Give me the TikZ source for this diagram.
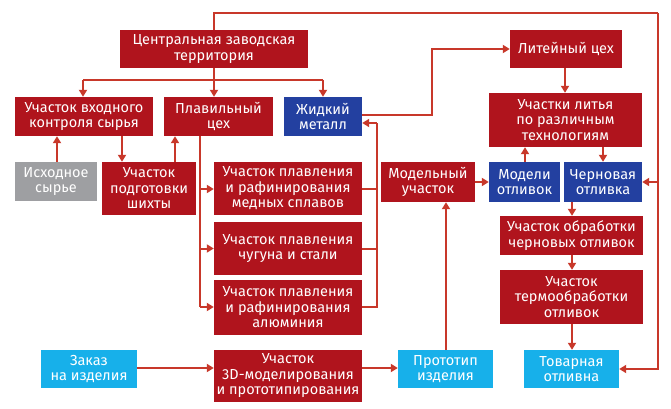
\documentclass[tikz,border=0pt]{standalone}
\usepackage{fontspec}
\setmainfont{Fira Sans}
\usetikzlibrary{arrows.meta}
\definecolor{boxred}{HTML}{B0141D}
\definecolor{linered}{HTML}{C8382A}
\definecolor{boxblue}{HTML}{2340A0}
\definecolor{boxgray}{HTML}{9E9FA2}
\definecolor{boxcyan}{HTML}{17B0EA}
\tikzset{
  box/.style={rectangle, inner sep=0pt, text=white, align=center,
    font=\fontsize{14.5}{15.5}\selectfont},
  redbox/.style={box, fill=boxred},
  bluebox/.style={box, fill=boxblue},
  graybox/.style={box, fill=boxgray},
  cyanbox/.style={box, fill=boxcyan},
  conn/.style={draw=linered, line width=2pt},
  arr/.style={conn, -{Triangle[length=7pt,width=8pt]}},
}
\begin{document}
\begin{tikzpicture}[x=1pt,y=-1pt]
\useasboundingbox (0,0) rectangle (671,409);
\fill[white] (0,0) rectangle (671,409);
% boxes
\node[redbox, minimum width=188pt, minimum height=38pt] (central) at (214,49) {Центральная заводская\\территория};
\node[redbox, minimum width=138pt, minimum height=39pt] (kontrol) at (84,116.5) {Участок входного\\контроля сырья};
\node[redbox, minimum width=109pt, minimum height=39pt] (plav) at (218.5,116.5) {Плавильный\\цех};
\node[bluebox, minimum width=78pt, minimum height=39pt] (zhid) at (323,116.5) {Жидкий\\металл};
\node[graybox, minimum width=82pt, minimum height=39pt] (ishod) at (56,181.5) {Исходное\\сырье};
\node[redbox, minimum width=94pt, minimum height=53pt] (podg) at (149,188.5) {Участок\\подготовки\\шихты};
\node[redbox, minimum width=148pt, minimum height=53pt] (med) at (288,188.5) {Участок плавления\\и рафинирования\\медных сплавов};
\node[redbox, minimum width=148pt, minimum height=53pt] (chug) at (288,248.5) {Участок плавления\\чугуна и стали};
\node[redbox, minimum width=148pt, minimum height=55pt] (alum) at (288,307.5) {Участок плавления\\и рафинирования\\алюминия};
\node[redbox, minimum width=112pt, minimum height=38pt] (liteyn) at (566,49) {Литейный цех};
\node[redbox, minimum width=153pt, minimum height=54pt] (uchlit) at (565.5,120) {Участки литья\\по различным\\технологиям};
\node[bluebox, minimum width=71pt, minimum height=40pt] (modeli) at (524.5,182) {Модели\\отливок};
\node[bluebox, minimum width=78pt, minimum height=40pt] (chern) at (603,182) {Черновая\\отливка};
\node[redbox, minimum width=94pt, minimum height=40pt] (modelny) at (428,182) {Модельный\\участок};
\node[redbox, minimum width=143pt, minimum height=39pt] (obrab) at (571.5,235.5) {Участок обработки\\черновых отливок};
\node[redbox, minimum width=143pt, minimum height=54pt] (termo) at (571.5,297) {Участок\\термообработки\\отливок};
\node[cyanbox, minimum width=95pt, minimum height=38pt] (tovar) at (571.5,369) {Товарная\\отливна};
\node[cyanbox, minimum width=95pt, minimum height=38pt] (proto) at (445.5,369) {Прототип\\изделия};
\node[redbox, minimum width=148pt, minimum height=52pt] (d3) at (288,376) {Участок\\3D-моделирования\\и прототипирования};
\node[cyanbox, minimum width=96pt, minimum height=38pt] (zakaz) at (89,369) {Заказ\\на изделия};
% coordinates
\coordinate (topL) at (214,13);
\coordinate (topR) at (658,13);
\coordinate (rChern) at (658,182);
\coordinate (split) at (214,80);
\coordinate (splitL) at (83,80);
\coordinate (splitR) at (323,80);
\coordinate (plavDown) at (200,307);
\coordinate (collect) at (377,307);
\coordinate (collectTop) at (377,123);
\coordinate (lmid) at (432,49);
% connectors
\draw[conn] (central.north) -- (topL) -- (topR);
\draw[arr] (topR) |- (tovar.east);
\draw[arr] (rChern) -- (chern.east);
\draw[conn] (central.south) -- (split);
\draw[conn] (splitL) -- (splitR);
\draw[arr] (splitL) -- (splitL |- kontrol.north);
\draw[arr] (split) -- (split |- plav.north);
\draw[arr] (splitR) -- (splitR |- zhid.north);
\draw[arr] (ishod.north -| 57,0) -- (kontrol.south -| 57,0);
\draw[arr] (kontrol.south -| 122,0) -- (podg.north -| 122,0);
\draw[arr] (podg.north -| 175,0) -- (plav.south -| 175,0);
\draw[conn] (plav.south -| plavDown) -- (plavDown);
\draw[arr] (plavDown |- 0,189) -- (med.west |- 0,189);
\draw[arr] (plavDown |- chug.west) -- (chug.west);
\draw[arr] (plavDown) -- (alum.west |- plavDown);
\draw[conn] (med.east |- 0,189) -- (collect |- 0,189);
\draw[conn] (chug.east) -- (collect |- chug.east);
\draw[conn] (alum.east |- collect) -- (collect) -- (collectTop);
\draw[arr] (collectTop) -- (zhid.east |- collectTop);
\draw[arr] (zhid.east |- 0,115) -| (lmid) -- (liteyn.west);
\draw[arr] (liteyn.south -| 565,0) -- (uchlit.north -| 565,0);
\draw[arr] (modeli.north -| 525,0) -- (uchlit.south -| 525,0);
\draw[arr] (uchlit.south -| 603,0) -- (chern.north -| 603,0);
\draw[arr] (modelny.east) -- (modeli.west);
\draw[arr] (chern.south -| 572,0) -- (obrab.north -| 572,0);
\draw[arr] (obrab.south -| 572,0) -- (termo.north -| 572,0);
\draw[arr] (termo.south -| 572,0) -- (tovar.north -| 572,0);
\draw[arr] (proto.north -| 446,0) -- (modelny.south -| 446,0);
\draw[arr] (d3.east |- 0,368) -- (proto.west |- 0,368);
\draw[arr] (zakaz.east |- 0,368) -- (d3.west |- 0,368);
\end{tikzpicture}
\end{document}
